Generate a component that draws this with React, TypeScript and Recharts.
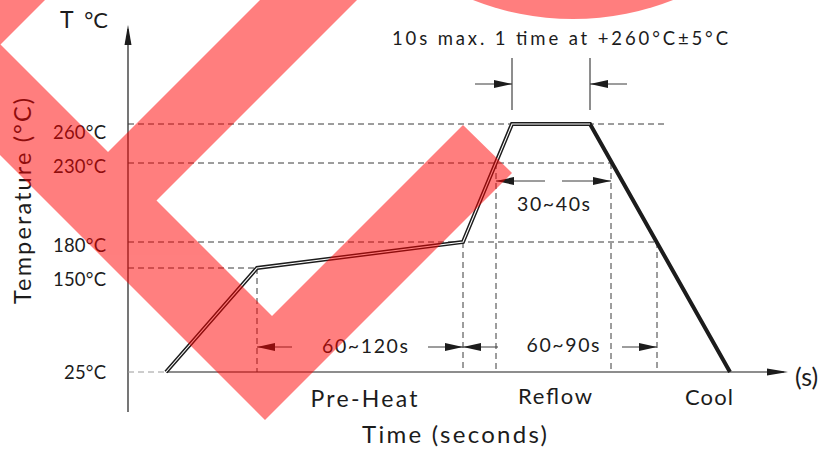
import React from "react";
import { ComposedChart, Line, XAxis, YAxis, ReferenceLine, ReferenceDot, Label } from "recharts";

const FONT = "Lato, 'DejaVu Sans', sans-serif";
const INK = "#1c1c1c";
const GUIDE = "#3a3a3a";

// temperature ticks (the drawing is schematic, not to scale)
const tempTicks = [25, 150, 180, 230, 260];
const tempTickLabels = ["25°C", "150°C", "180°C", "230°C", "260°C"];

// reflow profile: time (s, schematic) and temperature (°C)
const profileTime = [19, 64.5, 167.5, 192, 231, 301];
const profileTemp = [25, 150, 180, 260, 260, 25];

// dashed guides: horizontal guide end per tick, and vertical drops
const guideEnd = [19, 64.5, 264.5, 241.5, 270];
const dropTime = [64.5, 167.5, 184, 241.5, 264.5];
const dropTemp = [150, 180, 230, 230, 180];

// dimension annotations
const dimLabels = ["10s max. 1 time at +260°C±5°C", "30~40s", "60~120s", "60~90s"];
const dimFrom = [192, 184, 64.5, 167.5];
const dimTo = [231, 241.5, 167.5, 264.5];
const dimTemp = [260, 230, 25, 25];

const phaseNames = ["Pre-Heat", "Reflow", "Cool"];

// ---- layout (drawing units, not data) ----
const tickRise = [0, 104, 130, 209, 248]; // drawn height of each tick above the 25°C line
const tickLabelDrop = [1, 12, 4, 4, 9];
const dimRise = [40, -18, 25, 25]; // extra height of each dimension line over its temp
const dimLayout = [
  { outside: true, shaft: 37, dx: 9, dy: -39, size: 18.5, width: 336 },
  { outside: false, shaft: 49, dx: 0, dy: 30, size: 19.5, width: 73 },
  { outside: false, shaft: 35, dx: 5, dy: 6, size: 19.5, width: 86 },
  { outside: false, shaft: 35, dx: 3, dy: 5, size: 19.5, width: 73 },
];
const phaseAt = [118, 213.5, 290.5];
const phaseLayout = [
  { level: -35, size: 23, width: 107 },
  { level: -32, size: 22, width: 74 },
  { level: -33, size: 22, width: 48 },
];

const rise = (temp: number) => {
  for (let i = 1; i < tempTicks.length; i++) {
    if (temp <= tempTicks[i]) {
      const f = (temp - tempTicks[i - 1]) / (tempTicks[i] - tempTicks[i - 1]);
      return tickRise[i - 1] + f * (tickRise[i] - tickRise[i - 1]);
    }
  }
  return tickRise[tickRise.length - 1];
};

const profileRows = profileTime.map((t, i) => ({ t, level: rise(profileTemp[i]) }));

function Caption(props: any) {
  const { x, y, size, width, anchor = "middle", transform, children } = props;
  return (
    <text
      x={x}
      y={y}
      fontSize={size}
      fontFamily={FONT}
      fill={INK}
      textAnchor={anchor}
      textLength={width}
      lengthAdjust={width ? "spacing" : undefined}
      transform={transform}
    >
      {children}
    </text>
  );
}

// dir 1 = points right, -1 = points left
function Head({ x, y, dir }: { x: number; y: number; dir: number }) {
  const L = 18;
  const H = 4;
  return <polygon points={`${x},${y} ${x - dir * L},${y - H} ${x - dir * L},${y + H}`} fill={INK} />;
}

const dimShape = (i: number) => (p: any) => {
  const lay = dimLayout[i];
  const left = Math.min(p.x1, p.x2);
  const right = Math.max(p.x1, p.x2);
  const y = p.y1;
  const s = lay.shaft;
  return (
    <g>
      {lay.outside ? (
        <>
          <line x1={left} y1={y - 26} x2={left} y2={y + 26} stroke={INK} strokeWidth={1} />
          <line x1={right} y1={y - 26} x2={right} y2={y + 26} stroke={INK} strokeWidth={1} />
          <line x1={left - s} y1={y} x2={left} y2={y} stroke={GUIDE} strokeWidth={1} />
          <Head x={left} y={y} dir={1} />
          <line x1={right} y1={y} x2={right + s} y2={y} stroke={GUIDE} strokeWidth={1} />
          <Head x={right} y={y} dir={-1} />
        </>
      ) : (
        <>
          <line x1={left} y1={y} x2={left + s} y2={y} stroke={GUIDE} strokeWidth={1} />
          <Head x={left} y={y} dir={-1} />
          <line x1={right - s} y1={y} x2={right} y2={y} stroke={GUIDE} strokeWidth={1} />
          <Head x={right} y={y} dir={1} />
        </>
      )}
      <Caption x={(left + right) / 2 + lay.dx} y={y + lay.dy} size={lay.size} width={lay.width}>
        {dimLabels[i]}
      </Caption>
    </g>
  );
};

const yAxisShape = (p: any) => {
  const top = Math.min(p.y1, p.y2);
  const bottom = Math.max(p.y1, p.y2);
  const x = p.x1;
  return (
    <g>
      <line x1={x} y1={bottom} x2={x} y2={top + 4} stroke={INK} strokeWidth={1.2} />
      <polygon points={`${x},${top} ${x - 3.5},${top + 20} ${x + 3.5},${top + 20}`} fill={INK} />
      <Caption x={x - 68} y={top + 3} size={23} anchor="start">
        T
      </Caption>
      <Caption x={x - 20} y={top + 3} size={22} anchor="end">
        °C
      </Caption>
    </g>
  );
};

const xAxisShape = (p: any) => {
  const left = Math.min(p.x1, p.x2);
  const right = Math.max(p.x1, p.x2);
  const y = p.y1;
  return (
    <g>
      <line x1={left} y1={y} x2={right - 4} y2={y} stroke={INK} strokeWidth={1.2} />
      <polygon points={`${right},${y} ${right - 21},${y - 3.5} ${right - 21},${y + 3.5}`} fill={INK} />
      <Caption x={right + 7} y={y + 14} size={25} anchor="start">
        (s)
      </Caption>
    </g>
  );
};

const renderTick = (p: any) => {
  const i = tickRise.indexOf(p.payload.value);
  if (i < 0) return <g />;
  return (
    <Caption
      x={p.x}
      y={p.y + tickLabelDrop[i] + 6}
      size={18.5}
      width={tempTickLabels[i].length > 4 ? 53 : 42}
      anchor="end"
    >
      {tempTickLabels[i]}
    </Caption>
  );
};

const Watermark = () => (
  <svg width={826} height={450} style={{ position: "absolute", left: 0, top: 0, pointerEvents: "none" }}>
    <g opacity={0.5} fill="#ff0000">
      <polygon points="-60,-16 272,316 463,125 512,173 265,420 -60,95" />
      <polygon points="80,180 420,-160 517,-160 130,227" />
      <polygon points="-10,-10 55,-10 -10,55" />
      <circle cx={573} cy={-254} r={273} />
    </g>
  </svg>
);

export default function App() {
  return (
    <div style={{ position: "absolute", left: 0, top: 0, width: 826, height: 450, background: "#fff" }}>
      <ComposedChart width={826} height={450} margin={{ top: 25, right: 38, bottom: 0, left: 0 }}>
        <XAxis
          type="number"
          dataKey="t"
          domain={[0, 330]}
          height={38}
          tick={false}
          axisLine={false}
          tickLine={false}
          allowDataOverflow
        >
          <Label
            content={(p: any) => (
              <Caption x={p.viewBox.x + p.viewBox.width / 2 - 3.5} y={p.viewBox.y + 31} size={24} width={185}>
                Time (seconds)
              </Caption>
            )}
          />
        </XAxis>
        <YAxis
          type="number"
          domain={[-40, 347]}
          width={128}
          ticks={tickRise}
          tick={renderTick}
          tickSize={0}
          tickMargin={22}
          axisLine={false}
          tickLine={false}
          allowDataOverflow
        >
          <Label
            content={() => (
              <Caption x={31} y={201} size={23.5} width={206} transform="rotate(-90 31 201)">
                Temperature (°C)
              </Caption>
            )}
          />
        </YAxis>

        {/* axes with arrows */}
        <ReferenceLine segment={[{ x: 0, y: -40 }, { x: 0, y: 347 }]} ifOverflow="visible" shape={yAxisShape} />
        <ReferenceLine
          segment={[{ x: profileTime[0], y: 0 }, { x: 330, y: 0 }]}
          ifOverflow="visible"
          shape={xAxisShape}
        />

        {/* dashed guides */}
        {tempTicks.map((temp, i) => (
          <ReferenceLine
            key={`h${temp}`}
            segment={[{ x: 0, y: tickRise[i] }, { x: guideEnd[i], y: tickRise[i] }]}
            stroke={i === 0 ? "#9a9a9a" : GUIDE}
            strokeWidth={1}
            strokeDasharray="6 4"
            ifOverflow="visible"
          />
        ))}
        {dropTime.map((t, i) => (
          <ReferenceLine
            key={`v${i}`}
            segment={[{ x: t, y: rise(dropTemp[i]) }, { x: t, y: 0 }]}
            stroke={GUIDE}
            strokeWidth={1}
            strokeDasharray="6 4"
            ifOverflow="visible"
          />
        ))}

        {/* dimensions */}
        {dimLabels.map((d, i) => (
          <ReferenceLine
            key={d}
            segment={[
              { x: dimFrom[i], y: rise(dimTemp[i]) + dimRise[i] },
              { x: dimTo[i], y: rise(dimTemp[i]) + dimRise[i] },
            ]}
            ifOverflow="visible"
            shape={dimShape(i)}
          />
        ))}

        {/* phase names */}
        {phaseNames.map((n, i) => (
          <ReferenceDot
            key={n}
            x={phaseAt[i]}
            y={phaseLayout[i].level}
            ifOverflow="visible"
            shape={(p: any) => (
              <Caption x={p.cx} y={p.cy} size={phaseLayout[i].size} width={phaseLayout[i].width}>
                {n}
              </Caption>
            )}
          />
        ))}

        {/* profile, drawn as a double line */}
        <Line
          data={profileRows}
          dataKey="level"
          type="linear"
          stroke={INK}
          strokeWidth={4}
          dot={false}
          activeDot={false}
          isAnimationActive={false}
        />
        <Line
          data={profileRows.slice(0, 5)}
          dataKey="level"
          type="linear"
          stroke="#ffffff"
          strokeWidth={1.1}
          dot={false}
          activeDot={false}
          isAnimationActive={false}
        />
      </ComposedChart>
      <Watermark />
    </div>
  );
}
